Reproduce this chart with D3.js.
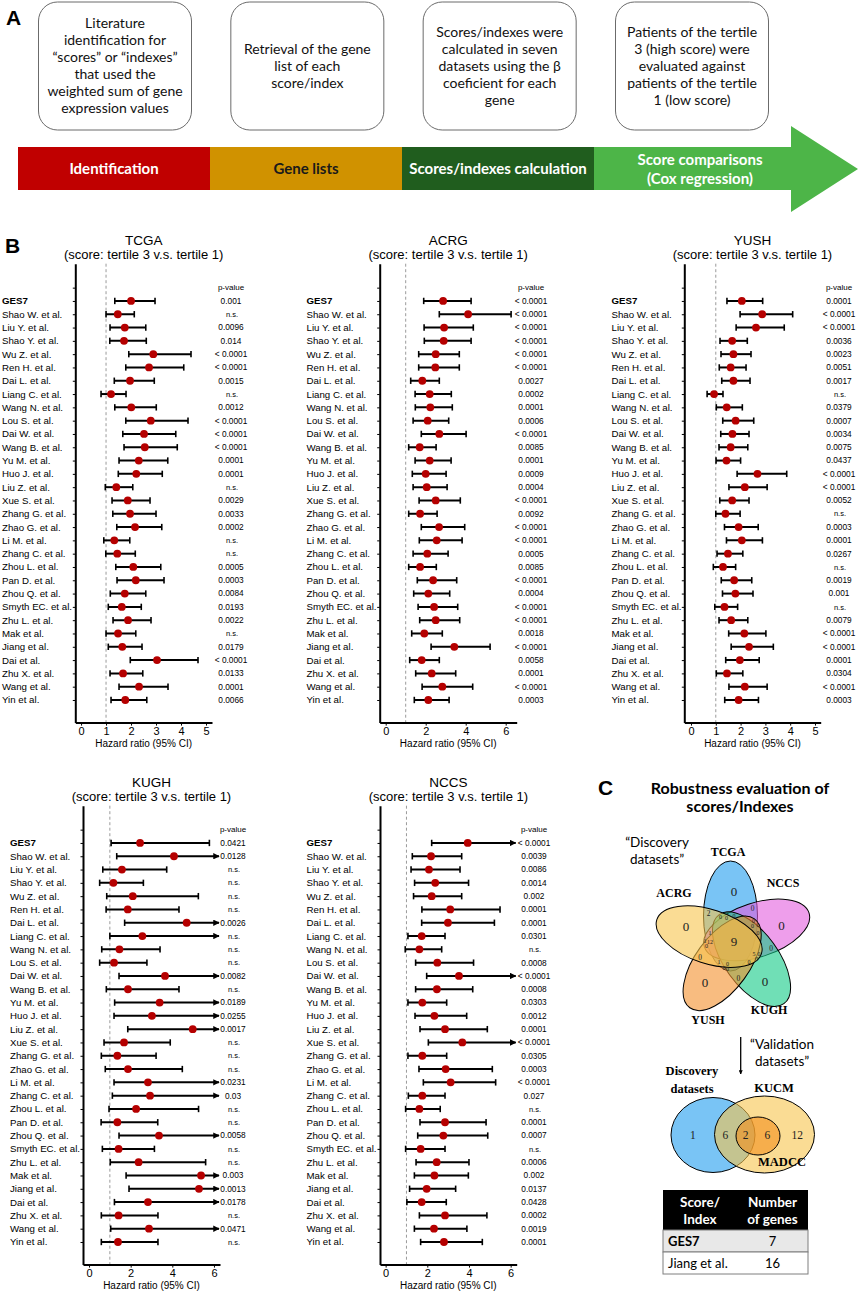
<!DOCTYPE html>
<html>
<head>
<meta charset="utf-8">
<script src="https://cdn.jsdelivr.net/npm/d3@7"></script>
<style>
body { margin: 0; background: #fff; }
svg { display: block; }
text { font-family: "Liberation Sans", Arial, sans-serif; }
.cal { font-family: Lato, "Open Sans", sans-serif; }
.ser { font-family: "Liberation Serif", "Times New Roman", serif; }
</style>
</head>
<body>
<svg id="fig" width="858" height="1292"></svg>
<script>
// ---- panel A
var stepBoxes = [
	["Literature", "identification for", "\u201Cscores\u201D or \u201Cindexes\u201D", "that used the", "weighted sum of gene", "expression values"],
	["Retrieval of the gene", "list of each", "score/index"],
	["Scores/indexes were", "calculated in seven", "datasets using the \u03B2", "coeficient for each", "gene"],
	["Patients of the tertile", "3 (high score) were", "evaluated against", "patients of the tertile", "1 (low score)"]
];
var stages = [["Identification"], ["Gene lists"], ["Scores/indexes calculation"], ["Score comparisons", "(Cox regression)"]];

// ---- panel B
var studies = ["GES7","Shao W. et al.","Liu Y. et al.","Shao Y. et al.","Wu Z. et al.","Ren H. et al.","Dai L. et al.","Liang C. et al.","Wang N. et al.","Lou S. et al.","Dai W. et al.","Wang B. et al.","Yu M. et al.","Huo J. et al.","Liu Z. et al.","Xue S. et al.","Zhang G. et al.","Zhao G. et al.","Li M. et al.","Zhang C. et al.","Zhou L. et al.","Pan D. et al.","Zhou Q. et al.","Smyth EC. et al.","Zhu L. et al.","Mak et al.","Jiang et al.","Dai et al.","Zhu X. et al.","Wang et al.","Yin et al."];

var tcgaHR = [2.0,1.47,1.75,1.72,2.89,2.72,1.96,1.2,2.01,2.79,2.52,2.55,2.31,2.21,1.41,1.87,1.96,2.16,1.33,1.45,2.09,2.19,1.75,1.63,1.88,1.48,1.65,3.04,1.68,2.32,1.77];
var tcgaLo = [1.35,1.0,1.16,1.15,1.91,1.79,1.33,0.8,1.35,1.79,1.67,1.72,1.52,1.49,0.97,1.24,1.27,1.43,0.91,0.99,1.39,1.44,1.17,1.09,1.28,1.0,1.09,1.97,1.16,1.52,1.2];
var tcgaHi = [2.96,2.13,2.59,2.61,4.4,4.11,2.93,1.8,3.01,4.28,3.79,3.85,3.47,3.25,2.07,2.76,3.0,3.23,1.95,2.17,3.19,3.32,2.59,2.41,2.8,2.19,2.44,4.68,2.47,3.48,2.63];
var tcgaP = ["0.001","n.s.","0.0096","0.014","< 0.0001","< 0.0001","0.0015","n.s.","0.0012","< 0.0001","< 0.0001","< 0.0001","0.0001","0.0001","n.s.","0.0029","0.0033","0.0002","n.s.","n.s.","0.0005","0.0003","0.0084","0.0193","0.0022","n.s.","0.0179","< 0.0001","0.0133","0.0001","0.0066"];

var acrgHR = [2.87,4.12,2.92,2.9,2.5,2.48,1.83,2.2,2.23,2.1,2.68,1.7,2.2,2.0,2.05,2.5,1.72,2.67,2.55,2.08,1.72,2.37,2.13,2.42,2.5,1.93,3.43,1.8,2.3,2.83,2.13];
var acrgLo = [1.9,2.68,1.92,1.93,1.65,1.65,1.25,1.47,1.48,1.37,1.78,1.15,1.47,1.33,1.37,1.67,1.15,1.78,1.68,1.37,1.15,1.58,1.4,1.62,1.7,1.3,2.27,1.2,1.5,1.82,1.43];
var acrgHi = [4.27,6.27,4.38,4.27,3.68,3.68,2.68,3.28,3.33,3.15,4.02,2.52,3.27,3.02,3.07,3.73,2.57,3.95,3.82,3.12,2.53,3.55,3.2,3.6,3.7,2.83,5.22,2.68,3.5,4.35,3.17];
var acrgP = ["< 0.0001","< 0.0001","< 0.0001","< 0.0001","< 0.0001","< 0.0001","0.0027","0.0002","0.0001","0.0006","< 0.0001","0.0085","0.0001","0.0009","0.0004","< 0.0001","0.0092","< 0.0001","< 0.0001","0.0005","0.0085","< 0.0001","0.0004","< 0.0001","< 0.0001","0.0018","< 0.0001","0.0058","0.0001","< 0.0001","0.0003"];

var yushHR = [2.05,2.87,2.62,1.66,1.71,1.6,1.71,0.93,1.44,1.8,1.67,1.6,1.43,2.68,2.17,1.66,1.39,1.92,2.05,1.49,1.29,1.74,1.79,1.35,1.62,2.15,2.34,1.97,1.45,2.17,1.92];
var yushLo = [1.45,1.98,1.82,1.17,1.21,1.14,1.24,0.65,1.02,1.28,1.2,1.13,1.01,1.86,1.53,1.16,1.0,1.35,1.43,1.05,0.9,1.22,1.27,0.96,1.13,1.52,1.62,1.4,1.02,1.53,1.36];
var yushHi = [2.89,4.1,3.76,2.27,2.42,2.22,2.38,1.29,2.07,2.53,2.34,2.29,2.0,3.86,3.07,2.34,1.98,2.71,2.88,2.09,1.8,2.45,2.5,1.88,2.29,3.02,3.32,2.75,2.09,3.07,2.72];
var yushP = ["0.0001","< 0.0001","< 0.0001","0.0036","0.0023","0.0051","0.0017","n.s.","0.0379","0.0007","0.0034","0.0075","0.0437","< 0.0001","< 0.0001","0.0052","n.s.","0.0003","0.0001","0.0267","n.s.","0.0019","0.001","n.s.","0.0079","< 0.0001","< 0.0001","0.0001","0.0304","< 0.0001","0.0003"];

var kughHR = [2.45,4.08,1.58,1.17,2.1,1.86,4.69,2.56,1.46,1.2,3.65,1.87,3.39,3.02,4.98,1.68,1.36,1.87,2.83,2.93,2.26,1.36,3.36,1.42,2.38,5.38,5.28,2.83,1.42,2.88,1.39];
var kughLo = [1.06,1.33,0.66,0.51,0.85,0.82,1.71,1.0,0.61,0.51,1.44,0.83,1.23,1.2,1.86,0.72,0.59,0.78,1.2,1.12,0.96,0.58,1.44,0.64,1.02,1.78,1.92,1.22,0.59,1.04,0.59];
var kughHi = [5.78,11.6,3.73,2.61,5.25,4.32,13.2,8.4,3.41,2.78,9.7,4.32,9.4,8.1,13.6,3.9,3.22,4.48,7.2,8.3,5.26,3.3,8.9,3.14,5.6,16.5,14.8,7.0,3.31,8.2,3.31];
var kughP = ["0.0421","0.0128","n.s.","n.s.","n.s.","n.s.","0.0026","n.s.","n.s.","n.s.","0.0082","n.s.","0.0189","0.0255","0.0017","n.s.","n.s.","n.s.","0.0231","0.03","n.s.","n.s.","0.0058","n.s.","n.s.","0.003","0.0013","0.0178","n.s.","0.0471","n.s."];

var nccsHR = [3.94,2.18,2.08,2.38,2.21,3.1,2.99,1.73,1.62,2.48,3.52,2.46,1.76,2.34,2.85,3.68,1.76,2.88,3.12,1.76,1.62,2.85,2.77,1.68,2.45,2.34,1.97,1.73,2.85,2.32,2.8];
var nccsLo = [2.21,1.28,1.22,1.39,1.34,1.74,1.73,1.07,0.94,1.44,1.97,1.44,1.07,1.41,1.65,2.05,1.07,1.6,1.81,1.09,0.96,1.65,1.54,0.96,1.46,1.38,1.15,1.02,1.62,1.38,1.68];
var nccsHi = [7.1,3.65,3.57,3.98,3.65,5.49,5.22,2.85,2.69,4.22,6.9,4.18,2.93,3.89,4.88,6.6,2.93,5.12,5.28,2.85,2.62,4.82,4.9,2.85,4.0,3.97,3.36,2.91,4.86,3.9,4.64];
var nccsP = ["< 0.0001","0.0039","0.0086","0.0014","0.002","0.0001","0.0001","0.0301","n.s.","0.0008","< 0.0001","0.0008","0.0303","0.0012","0.0001","< 0.0001","0.0305","0.0003","< 0.0001","0.027","n.s.","0.0001","0.0007","n.s.","0.0006","0.002","0.0137","0.0428","0.0002","0.0019","0.0001"];

// ---- panel C
var vennSets = ["TCGA", "NCCS", "KUGH", "YUSH", "ACRG"];
var vennColors = ["#1f9cee", "#e25ede", "#10c985", "#f3902c", "#f6c54c"];
var validSets = ["Discovery datasets", "KUCM", "MADCC"];
var validRegions = ["100", "110", "111", "011", "010"];
var validCounts = [1, 6, 2, 6, 12];
var tableHead = [["Score/", "Index"], ["Number", "of genes"]];
var tableScores = ["GES7", "Jiang et al."];
var tableGenes = [7, 16];

var svg = d3.select("#fig");
var defs = svg.append("defs");
defs.append("marker").attr("id", "arr")
	.attr("viewBox", "0 0 10 10").attr("refX", 9).attr("refY", 5)
	.attr("markerWidth", 3.2).attr("markerHeight", 3.2).attr("orient", "auto")
	.append("path").attr("d", "M0,0L10,5L0,10z").attr("fill", "#000");

function panelLetter(t, x, y) {
	svg.append("text").attr("x", x).attr("y", y).text(t)
		.style("font-size", "21px").style("font-weight", "bold");
}

// ================= A =================
panelLetter("A", 6, 25);
var boxX = d3.scalePoint().domain(d3.range(stepBoxes.length)).range([115, 692]);
var boxes = svg.append("g").selectAll("g").data(stepBoxes).enter().append("g");
boxes.append("rect")
	.attr("x", function(d, i) { return boxX(i) - 76.5; })
	.attr("y", 2).attr("width", 153).attr("height", 128)
	.attr("rx", 19).attr("ry", 19)
	.attr("fill", "#fff").attr("stroke", "#6b6b6b").attr("stroke-width", 1);
boxes.each(function(d, i) {
	var top = 66 - (d.length - 1) * 17 / 2;
	d3.select(this).selectAll("text").data(d).enter().append("text")
		.attr("class", "cal")
		.attr("x", boxX(i)).attr("y", function(s, j) { return top + j * 17; })
		.attr("dy", "0.35em").attr("text-anchor", "middle")
		.style("font-size", "14px").attr("fill", "#111")
		.text(function(s) { return s; });
});

var bandX = d3.scaleLinear().domain([0, 4]).range([18, 786]);
var bandColors = ["#c00000", "#d09200", "#205d1e", "#4db548"];
var bandText = ["#fff", "#1a1a1a", "#fff", "#fff"];
var band = svg.append("g");
band.selectAll("path").data(stages).enter().append("path")
	.attr("d", function(d, i) {
		var a = bandX(i), b = bandX(i + 1);
		if (i < 3) return "M" + a + ",147H" + b + "V190H" + a + "Z";
		return "M" + a + ",147H" + (b + 5) + "V126L858,169L" + (b + 5) + ",212V190H" + a + "Z";
	})
	.attr("fill", function(d, i) { return bandColors[i]; });
stages.forEach(function(lines, i) {
	var cx = i < 3 ? (bandX(i) + bandX(i + 1)) / 2 : 700;
	lines.forEach(function(s, j) {
		band.append("text").attr("class", "cal")
			.attr("x", cx).attr("y", 169 + (j - (lines.length - 1) / 2) * 19)
			.attr("dy", "0.35em").attr("text-anchor", "middle")
			.style("font-size", "15px").style("font-weight", "bold")
			.attr("fill", bandText[i]).text(s);
	});
});

// ================= B =================
panelLetter("B", 5, 253);

var panels = [
	{name: "TCGA", hr: tcgaHR, lo: tcgaLo, hi: tcgaHi, p: tcgaP, labelX: 2, x0: 75.3, x1: 212, dom: [-0.23, 5.24], ticks: [0,1,2,3,4,5], pX: 231, y0: 301},
	{name: "ACRG", hr: acrgHR, lo: acrgLo, hi: acrgHi, p: acrgP, labelX: 306.5, x0: 379.7, x1: 516.7, dom: [-0.3, 6.55], ticks: [0,2,4,6], pX: 531, y0: 301},
	{name: "YUSH", hr: yushHR, lo: yushLo, hi: yushHi, p: yushP, labelX: 611.5, x0: 684.3, x1: 820.7, dom: [-0.27, 5.23], ticks: [0,1,2,3,4,5], pX: 839, y0: 301},
	{name: "KUGH", hr: kughHR, lo: kughLo, hi: kughHi, p: kughP, labelX: 10, x0: 83, x1: 220, dom: [-0.29, 6.29], ticks: [0,2,4,6], pX: 233, y0: 843},
	{name: "NCCS", hr: nccsHR, lo: nccsLo, hi: nccsHi, p: nccsP, labelX: 306.5, x0: 380, x1: 516.7, dom: [-0.27, 6.29], ticks: [0,2,4,6], pX: 534, y0: 843}
];

function forest(cfg) {
	var g = svg.append("g");
	var x = d3.scaleLinear().domain(cfg.dom).range([cfg.x0, cfg.x1]);
	var y = d3.scaleLinear().domain([-2.8, 31.7]).range([cfg.y0 - 37.3, cfg.y0 + 421.6]);
	var rows = studies.map(function(s, i) {
		return {name: s, i: i, hr: cfg.hr[i], lo: cfg.lo[i], hi: cfg.hi[i], p: cfg.p[i]};
	});
	var mid = (cfg.x0 + cfg.x1) / 2;

	g.append("text").attr("x", mid).attr("y", cfg.y0 - 61).attr("dy", "0.35em")
		.attr("text-anchor", "middle").style("font-size", "13.5px").text(cfg.name);
	g.append("text").attr("x", mid).attr("y", cfg.y0 - 46.5).attr("dy", "0.35em")
		.attr("text-anchor", "middle").style("font-size", "13px").text("(score: tertile 3 v.s. tertile 1)");

	g.append("line")
		.attr("x1", x(1)).attr("x2", x(1))
		.attr("y1", y.range()[0]).attr("y2", y.range()[1])
		.attr("stroke", "#9a9a9a").attr("stroke-width", 1).attr("stroke-dasharray", "3,2.5");

	var ya = g.append("g").attr("transform", "translate(" + cfg.x0 + ",0)")
		.call(d3.axisLeft(y).tickValues(d3.range(-1, studies.length)).tickSize(2.5).tickSizeOuter(0).tickFormat(""));
	ya.select(".domain").attr("stroke-width", 2);
	ya.selectAll(".tick line").attr("stroke-width", 1);

	var xa = g.append("g").attr("transform", "translate(0," + y.range()[1] + ")")
		.call(d3.axisBottom(x).tickValues(cfg.ticks).tickFormat(d3.format("d")).tickSize(3).tickSizeOuter(0).tickPadding(2));
	xa.select(".domain").attr("stroke-width", 2);
	xa.selectAll("text").style("font-size", "11px").attr("font-family", null);
	g.append("text").attr("x", mid).attr("y", y.range()[1] + 21).attr("dy", "0.35em")
		.attr("text-anchor", "middle").style("font-size", "10px").text("Hazard ratio (95% CI)");

	g.selectAll(".nm").data(rows).enter().append("text")
		.attr("x", cfg.labelX).attr("y", function(d) { return y(d.i); }).attr("dy", "0.36em")
		.style("font-size", "9.7px")
		.style("font-weight", function(d) { return d.i === 0 ? "bold" : "normal"; })
		.text(function(d) { return d.name; });

	g.append("text").attr("x", cfg.pX).attr("y", y(-1)).attr("dy", "0.35em")
		.attr("text-anchor", "middle").style("font-size", "8px").text("p-value");
	g.selectAll(".pv").data(rows).enter().append("text")
		.attr("x", function(d) { return d.p === "n.s." ? cfg.pX + 1 : cfg.pX; })
		.attr("y", function(d) { return y(d.i); }).attr("dy", "0.35em")
		.attr("text-anchor", "middle")
		.style("font-size", function(d) { return d.p === "n.s." ? "7.5px" : "8.3px"; })
		.text(function(d) { return d.p; });

	var xmax = cfg.dom[1];
	var bars = g.selectAll(".bar").data(rows).enter().append("g");
	bars.append("line")
		.attr("x1", function(d) { return x(d.lo); })
		.attr("x2", function(d) { return d.hi > xmax ? x(xmax) - 1 : x(d.hi); })
		.attr("y1", function(d) { return y(d.i); }).attr("y2", function(d) { return y(d.i); })
		.attr("stroke", "#000").attr("stroke-width", 2)
		.attr("marker-end", function(d) { return d.hi > xmax ? "url(#arr)" : null; });
	bars.append("line")
		.attr("x1", function(d) { return x(d.lo); }).attr("x2", function(d) { return x(d.lo); })
		.attr("y1", function(d) { return y(d.i) - 3.2; }).attr("y2", function(d) { return y(d.i) + 3.2; })
		.attr("stroke", "#000").attr("stroke-width", 1.6);
	bars.filter(function(d) { return d.hi <= xmax; }).append("line")
		.attr("x1", function(d) { return x(d.hi); }).attr("x2", function(d) { return x(d.hi); })
		.attr("y1", function(d) { return y(d.i) - 3.2; }).attr("y2", function(d) { return y(d.i) + 3.2; })
		.attr("stroke", "#000").attr("stroke-width", 1.6);
	bars.append("circle")
		.attr("cx", function(d) { return x(d.hr); }).attr("cy", function(d) { return y(d.i); })
		.attr("r", 3.9).attr("fill", "#b50000");
}
panels.forEach(forest);

// ================= C =================
panelLetter("C", 598, 795);
svg.append("text").attr("class", "cal").attr("x", 740).attr("y", 788).attr("dy", "0.35em")
	.attr("text-anchor", "middle").style("font-size", "16px").style("font-weight", "bold")
	.text("Robustness evaluation of");
svg.append("text").attr("class", "cal").attr("x", 740).attr("y", 806).attr("dy", "0.35em")
	.attr("text-anchor", "middle").style("font-size", "16px").style("font-weight", "bold")
	.text("scores/Indexes");
["\u201CDiscovery", "datasets\u201D"].forEach(function(s, j) {
	svg.append("text").attr("class", "cal").attr("x", 657).attr("y", 842 + j * 17).attr("dy", "0.35em")
		.attr("text-anchor", "middle").style("font-size", "13.5px").text(s);
});

// significance pattern of each score over the five discovery datasets
var sigSource = {TCGA: tcgaP, NCCS: nccsP, KUGH: kughP, YUSH: yushP, ACRG: acrgP};
var regionCount = {};
studies.forEach(function(s, i) {
	var key = vennSets.map(function(n) { return sigSource[n][i] !== "n.s." ? "1" : "0"; }).join("");
	regionCount[key] = (regionCount[key] || 0) + 1;
});

function ellipseInfo(cx, cy, a, b, rot) {
	var t = rot * Math.PI / 180, c = Math.cos(t), s = Math.sin(t);
	return {cx: cx, cy: cy, a: a, b: b, rot: rot, f: function(px, py) {
		var dx = px - cx, dy = py - cy;
		var u = dx * c + dy * s, v = -dx * s + dy * c;
		return (Math.sqrt((u / a) * (u / a) + (v / b) * (v / b)) - 1) * Math.min(a, b);
	}};
}
function maskAt(ells, px, py) {
	return ells.map(function(e) { return e.f(px, py) < 0 ? "1" : "0"; }).join("");
}

// label point = deepest grid point of each region
function regionPoints(ells, x0, x1, y0, y1) {
	var best = {};
	for (var px = x0; px <= x1; px += 0.5) {
		for (var py = y0; py <= y1; py += 0.5) {
			var key = "", depth = Infinity;
			ells.forEach(function(e) {
				var d = e.f(px, py);
				key += d < 0 ? "1" : "0";
				depth = Math.min(depth, Math.abs(d));
			});
			if (key.indexOf("1") < 0) continue;
			if (!best[key] || depth > best[key].depth) best[key] = {x: px, y: py, depth: depth};
		}
	}
	return best;
}

var vc = [734, 941];
var five = vennSets.map(function(n, k) {
	var t = k * 72 * Math.PI / 180, ox = -3.5, oy = -25;
	return ellipseInfo(vc[0] + ox * Math.cos(t) - oy * Math.sin(t), vc[1] + ox * Math.sin(t) + oy * Math.cos(t), 27, 55, k * 72);
});
var vg = svg.append("g");
vg.selectAll("ellipse").data(five).enter().append("ellipse")
	.attr("cx", function(e) { return e.cx; }).attr("cy", function(e) { return e.cy; })
	.attr("rx", function(e) { return e.a; }).attr("ry", function(e) { return e.b; })
	.attr("transform", function(e) { return "rotate(" + e.rot + "," + e.cx + "," + e.cy + ")"; })
	.attr("fill", function(e, i) { return vennColors[i]; }).attr("fill-opacity", 0.6)
	.attr("stroke", "#000").attr("stroke-width", 1);
var spots = regionPoints(five, 640, 830, 850, 1020);
Object.keys(spots).forEach(function(k) {
	var p = spots[k];
	vg.append("text").attr("class", "ser").attr("x", p.x).attr("y", p.y).attr("dy", "0.35em")
		.attr("text-anchor", "middle")
		.style("font-size", Math.max(6, Math.min(13, p.depth * 1.6)) + "px")
		.attr("fill", "#222").text(regionCount[k] || 0);
});
var setLabelPos = [[728, 852], [783, 883], [769, 1010], [708, 1020], [674, 893]];
vennSets.forEach(function(n, i) {
	vg.append("text").attr("class", "ser").attr("x", setLabelPos[i][0]).attr("y", setLabelPos[i][1])
		.attr("dy", "0.35em").attr("text-anchor", "middle")
		.style("font-size", "12px").style("font-weight", "bold").text(n);
});

// arrow to validation
svg.append("line").attr("x1", 740.7).attr("x2", 740.7).attr("y1", 1037).attr("y2", 1074)
	.attr("stroke", "#000").attr("stroke-width", 1.3).attr("marker-end", "url(#arr)");
["\u201CValidation", "datasets\u201D"].forEach(function(s, j) {
	svg.append("text").attr("class", "cal").attr("x", 782).attr("y", 1044 + j * 17).attr("dy", "0.35em")
		.attr("text-anchor", "middle").style("font-size", "13.5px").text(s);
});

var three = [ellipseInfo(713, 1135, 42, 37.5, 0), ellipseInfo(764.5, 1134.5, 50, 38.5, 0), ellipseInfo(758, 1136, 22, 19, 0)];
var threeColors = ["#1f9cee", "#f6c54c", "#f3901c"];
var tg = svg.append("g");
tg.selectAll("ellipse").data(three).enter().append("ellipse")
	.attr("cx", function(e) { return e.cx; }).attr("cy", function(e) { return e.cy; })
	.attr("rx", function(e) { return e.a; }).attr("ry", function(e) { return e.b; })
	.attr("fill", function(e, i) { return threeColors[i]; }).attr("fill-opacity", 0.6)
	.attr("stroke", "#000").attr("stroke-width", 1);
// numbers sit at the middle of each region's run along the central line
var scanY = 1135, runs = {};
for (var sx = 660; sx <= 820; sx += 0.25) {
	var mk = maskAt(three, sx, scanY);
	if (!runs[mk]) runs[mk] = [sx, sx];
	runs[mk][1] = sx;
}
validRegions.forEach(function(k, i) {
	var r = runs[k];
	if (!r) return;
	tg.append("text").attr("class", "ser").attr("x", (r[0] + r[1]) / 2).attr("y", scanY).attr("dy", "0.35em")
		.attr("text-anchor", "middle").style("font-size", "11.5px").attr("fill", "#222").text(validCounts[i]);
});
var validLabel = [[["Discovery", "datasets"], 692, 1071], [["KUCM"], 774, 1088], [["MADCC"], 782, 1162]];
validLabel.forEach(function(l) {
	l[0].forEach(function(s, j) {
		tg.append("text").attr("class", "ser").attr("x", l[1]).attr("y", l[2] + j * 18).attr("dy", "0.35em")
			.attr("text-anchor", "middle").style("font-size", "12.5px").style("font-weight", "bold").text(s);
	});
});

// table
var tb = svg.append("g");
var colX = d3.scaleLinear().domain([0, 1, 2]).range([663, 737, 808]);
tb.append("rect").attr("x", colX(0)).attr("y", 1190).attr("width", colX(2) - colX(0)).attr("height", 40).attr("fill", "#000");
tableHead.forEach(function(lines, c) {
	lines.forEach(function(s, j) {
		tb.append("text").attr("class", "cal").attr("x", (colX(c) + colX(c + 1)) / 2).attr("y", 1202 + j * 17)
			.attr("dy", "0.35em").attr("text-anchor", "middle").attr("fill", "#fff")
			.style("font-size", "13.5px").style("font-weight", "bold").text(s);
	});
});
var rowY = d3.scaleLinear().domain([0, 2]).range([1230, 1274]);
tableScores.forEach(function(s, r) {
	tb.append("rect").attr("x", colX(0)).attr("y", rowY(r)).attr("width", colX(2) - colX(0))
		.attr("height", rowY(r + 1) - rowY(r))
		.attr("fill", r === 0 ? "#e8e8e8" : "#fff").attr("stroke", "#7f7f7f").attr("stroke-width", 1);
	tb.append("text").attr("class", "cal").attr("x", colX(0) + 5).attr("y", (rowY(r) + rowY(r + 1)) / 2)
		.attr("dy", "0.35em").style("font-size", "13px").style("font-weight", r === 0 ? "bold" : "normal").text(s);
	tb.append("text").attr("class", "cal").attr("x", (colX(1) + colX(2)) / 2).attr("y", (rowY(r) + rowY(r + 1)) / 2)
		.attr("dy", "0.35em").attr("text-anchor", "middle").style("font-size", "13px").text(tableGenes[r]);
});
</script>
</body>
</html>
